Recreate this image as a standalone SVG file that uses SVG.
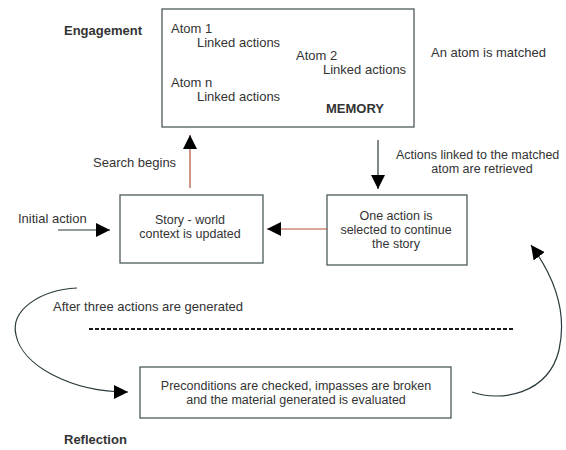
<svg xmlns="http://www.w3.org/2000/svg" width="566" height="450" viewBox="0 0 566 450">
<style>
text{font-family:"Liberation Sans",Arial,sans-serif;font-size:13px;fill:#333}
.b{font-weight:bold}
.m{text-anchor:middle}
.s{font-size:12.5px}
.box{fill:#fff;stroke:#4d5b5b;stroke-width:1.3}
.ln{fill:none;stroke:#2a3a3c;stroke-width:1.2}
.red{fill:none;stroke:#b0503a;stroke-width:1.2}
</style>
<defs>
<marker id="ah" viewBox="0 0 10 10" refX="10" refY="5" markerWidth="14" markerHeight="14" markerUnits="userSpaceOnUse" orient="auto">
<path d="M0,0 L10,5 L0,10 z" fill="#000"/>
</marker>
</defs>
<rect width="566" height="450" fill="#fff"/>
<text class="b" x="64" y="35">Engagement</text>
<text class="b" x="64" y="444">Reflection</text>
<g id="memory">
<rect class="box" x="162" y="9" width="252" height="118"/>
<text x="171" y="33">Atom 1</text>
<text x="197" y="47">Linked actions</text>
<text x="296" y="60">Atom 2</text>
<text x="323" y="74">Linked actions</text>
<text x="171" y="87">Atom n</text>
<text x="197" y="101">Linked actions</text>
<text class="b" x="326" y="113">MEMORY</text>
</g>
<g id="story">
<rect class="box" x="120" y="195" width="143" height="68"/>
<text class="m s" x="190" y="224">Story - world</text>
<text class="m s" x="190" y="238">context is updated</text>
</g>
<g id="select">
<rect class="box" x="327" y="195" width="140" height="70"/>
<text class="m s" x="396" y="220">One action is</text>
<text class="m s" x="396" y="234">selected to continue</text>
<text class="m s" x="396" y="248">the story</text>
</g>
<g id="reflect">
<rect class="box" x="140" y="367" width="311" height="51"/>
<text class="m s" x="296" y="390">Preconditions are checked, impasses are broken</text>
<text class="m s" x="296" y="404">and the material generated is evaluated</text>
</g>
<g id="labels">
<text x="431" y="57">An atom is matched</text>
<text class="s" x="396" y="159">Actions linked to the matched</text>
<text class="m s" x="482" y="173">atom are retrieved</text>
<text x="93" y="167">Search begins</text>
<text x="18" y="223">Initial action</text>
<text x="53" y="311">After three actions are generated</text>
</g>
<g id="connectors">
<line class="ln" x1="378" y1="140" x2="378" y2="189" marker-end="url(#ah)"/>
<line class="red" x1="327" y1="229" x2="267" y2="229" marker-end="url(#ah)"/>
<line class="ln" x1="58" y1="230" x2="110" y2="230" marker-end="url(#ah)"/>
<line class="red" x1="190" y1="188" x2="190" y2="135" marker-end="url(#ah)"/>
<path class="ln" d="M77,288 C40,290 10,310 16,335 C22,365 70,392 128,392" marker-end="url(#ah)"/>
<path class="ln" d="M472,392 C500,402 548,395 559,350 C568,310 553,275 531,245" marker-end="url(#ah)"/>
<line x1="89" y1="329" x2="513" y2="329" stroke="#1a1a1a" stroke-width="2" stroke-dasharray="4,2"/>
</g>
</svg>
